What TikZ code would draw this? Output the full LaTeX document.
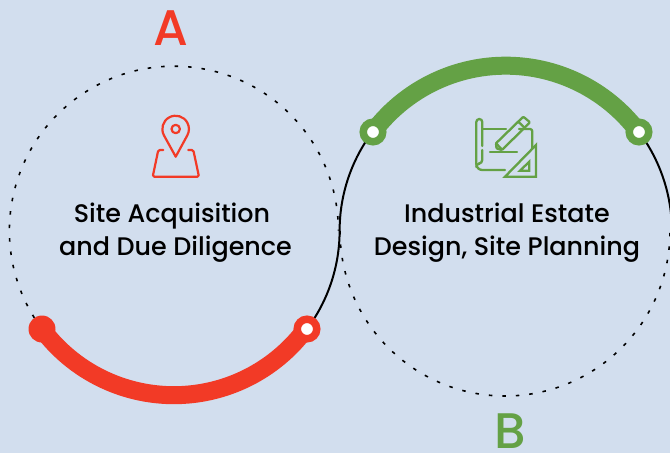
\documentclass[tikz,border=0pt]{standalone}
\usepackage{fontspec}
\setmainfont{Poppins}
\newfontfamily\letterfont{Poppins Medium}
\definecolor{bgc}{HTML}{D2DEEE}
\definecolor{redc}{HTML}{F23A26}
\definecolor{greenc}{HTML}{64A145}
\tikzset{
  dotted ring/.style={black,line width=1.6pt,dash pattern=on 3.5pt off 10pt},
  solid ring/.style={black,line width=2pt},
  thick arc/.style={line width=18pt},
  full dot/.style={circle,inner sep=0pt,minimum size=27pt,fill=#1},
  ring dot/.style={circle,inner sep=0pt,outer sep=0pt,minimum size=19.5pt,line width=7.5pt,draw=#1,fill=white},
  caption/.style={align=center,text=black,inner sep=0pt,font=\letterfont\fontsize{25.4}{33}\selectfont},
  big letter/.style={inner sep=0pt,anchor=base,font=\letterfont\fontsize{50}{50}\selectfont},
  icon red/.style={redc,line width=2.2pt,line join=round,line cap=round},
  icon green/.style={greenc,line width=2.3pt,line join=round,line cap=round}
}
\begin{document}
\begin{tikzpicture}[x=1pt,y=-1pt]
\useasboundingbox (0,0) rectangle (670,453);
\fill[bgc] (0,0) rectangle (670,453);
\clip (0,0) rectangle (670,453);
\coordinate (ca) at (175.5,231);
\coordinate (cb) at (505.5,231.5);
\coordinate (ra) at (42,329);
\coordinate (rb) at (307,329);
\coordinate (ga) at (373,132);
\coordinate (gb) at (639,132);
\coordinate (mid) at (340,231);
% dotted arcs
\draw[dotted ring] (ra) arc[start angle=143.3,end angle=360,radius=164.5];
\draw[dotted ring] (mid) arc[start angle=180,end angle=0,radius=165];
% solid arcs
\draw[solid ring] (rb) arc[start angle=36.7,end angle=0,radius=164.5]
                  arc[start angle=180,end angle=217,radius=165];
\draw[solid ring] (gb) arc[start angle=-36.8,end angle=0,radius=165];
% thick arcs
\draw[thick arc,redc] (ra) arc[start angle=143.3,end angle=36.7,radius=164.5];
\draw[thick arc,greenc] (ga) arc[start angle=216.9,end angle=323.1,radius=166];
% end dots
\node[full dot=redc] (rdot) at (ra) {};
\node[ring dot=redc] (rring) at (rb) {};
\node[ring dot=greenc] (gring1) at (ga) {};
\node[ring dot=greenc] (gring2) at (gb) {};
% letters
\node[big letter,text=redc] (la) at (170.5,45) {A};
\node[big letter,text=greenc] (lb) at (510,448) {B};
% captions
\node[caption] (ta) at (175.5,232.5) {Site Acquisition\hspace*{7pt}\\and Due Diligence};
\node[caption] (tb) at (507,232.5) {Industrial Estate\\Design, Site Planning};
% pin icon
\draw[icon red] (175.7,156.7) -- (163.97,135.4) arc[start angle=151.3,end angle=388.7,radius=13.3] -- cycle;
\draw[icon red] (175.7,129) circle[radius=4.2];
\draw[icon red,rounded corners=1.5pt] (163.3,150) -- (158.3,150) -- (152.7,176.7) -- (199,176.7) -- (193.3,150) -- (188.3,150);
% plan icon
\begin{scope}[icon green]
\draw (482.3,146) -- (482.3,122) arc[start angle=0,end angle=-180,radius=3] -- (476.3,164) arc[start angle=180,end angle=90,radius=6] -- (505,170);
\draw (482.3,150) -- (482.3,160) arc[start angle=0,end angle=90,radius=3.5] -- (479.8,163.5) arc[start angle=-90,end angle=-180,radius=3.5];
\draw (482.3,129) -- (506,129);
\draw (519,129) -- (530,129) arc[start angle=-90,end angle=0,radius=2.3] -- (532.3,149);
\draw (490,151.7) -- (517,151.7);
\draw[rounded corners=1pt] (496.5,148.5) -- (496,143.3) -- (523.3,116.7) -- (530,122.3) -- (502,150) -- cycle;
\draw (518.3,121.7) -- (525,128.3);
\draw (496,143.3) -- (501.5,149);
\draw[line join=miter] (536,145) -- (536,176.7) -- (505,176.7) -- cycle;
\draw[line join=miter] (529.3,161.7) -- (529.3,170.7) -- (520,170.7) -- cycle;
\end{scope}
\end{tikzpicture}
\end{document}
